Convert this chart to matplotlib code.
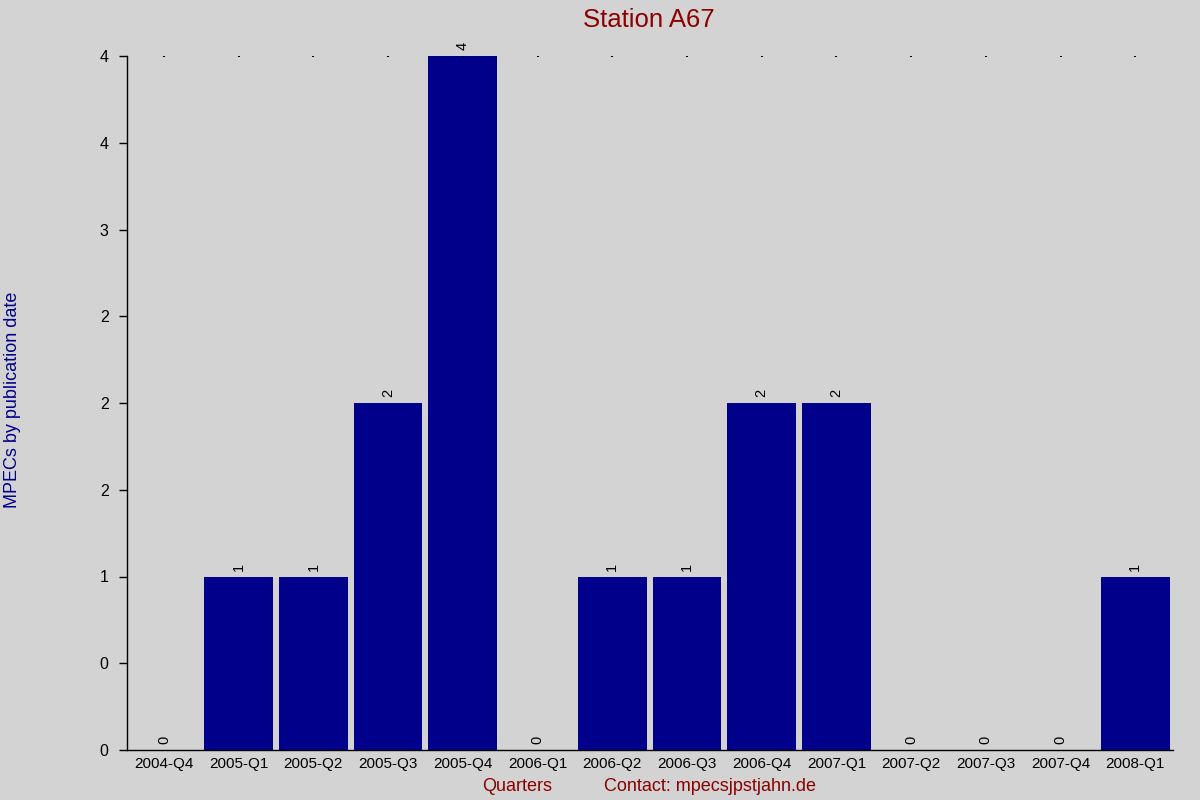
import matplotlib.pyplot as plt
from matplotlib.ticker import FuncFormatter, MultipleLocator

plt.rcParams['font.family'] = ['Liberation Sans', 'DejaVu Sans']

quarters = ['2004-Q4', '2005-Q1', '2005-Q2', '2005-Q3', '2005-Q4', '2006-Q1',
            '2006-Q2', '2006-Q3', '2006-Q4', '2007-Q1', '2007-Q2', '2007-Q3',
            '2007-Q4', '2008-Q1']
mpecs = [0, 1, 1, 2, 4, 0, 1, 1, 2, 2, 0, 0, 0, 1]

bg = '#d3d3d3'
fig = plt.figure(figsize=(12, 8), dpi=100, facecolor=bg)
ax = fig.add_axes([0.1055, 0.0625, 0.8717, 0.8675], facecolor=bg)

x = list(range(len(quarters)))
ax.bar(x, mpecs, width=0.92, color='#00008b')
for xi, v in zip(x, mpecs):
    ax.annotate(str(v), (xi, v), xytext=(0, 4), textcoords='offset points',
                rotation=90, ha='center', va='bottom', fontsize=10.5)

ax.set_xlim(-0.5, 13.5)
ax.set_ylim(0, 4)
ax.set_xticks(x)
ax.set_xticklabels(quarters, fontsize=11)
ax.yaxis.set_major_locator(MultipleLocator(0.5))
ax.yaxis.set_major_formatter(FuncFormatter(lambda v, p: str(round(v))))
ax.tick_params(axis='y', direction='out', length=6, width=1, pad=7,
               labelsize=11.5)
ax.tick_params(axis='x', bottom=False, top=True, direction='in', length=1,
               width=1.5, pad=5)

for s in ['top', 'right']:
    ax.spines[s].set_visible(False)
ax.spines['left'].set_linewidth(1)
ax.spines['bottom'].set_linewidth(1)

fig.text(0.541, 0.975, 'Station A67', ha='center', va='center',
         fontsize=18.5, color='#8b0000')
fig.text(0.0105, 0.5, 'MPECs by publication date', rotation=90, ha='center',
         va='center', fontsize=13, color='#00008b')
fig.text(0.431, 0.017, 'Quarters', ha='center', va='center', fontsize=13,
         color='#8b0000')
fig.text(0.592, 0.017, 'Contact: mpecsjpstjahn.de', ha='center',
         va='center', fontsize=13, color='#8b0000')

fig.savefig('out.png', dpi=100, facecolor=bg)
